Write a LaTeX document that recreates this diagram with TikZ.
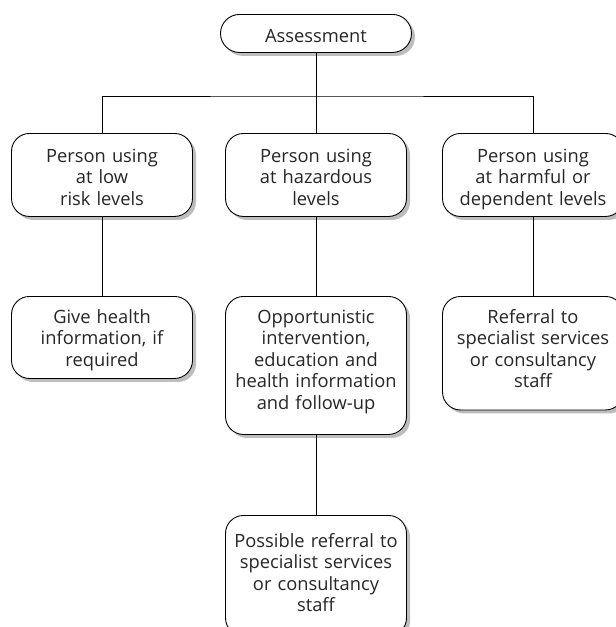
\documentclass[tikz,border=0pt]{standalone}
\usepackage{fontspec}
\setmainfont{Open Sans}
\usetikzlibrary{positioning,shadows}
\newcommand{\tpad}[1]{\rule{0pt}{#1}}
\newcommand{\bpad}[1]{\rule[-#1]{0pt}{#1}}
\begin{document}
\begin{tikzpicture}[x=1pt,y=-1pt,
          every node/.style={font=\fontsize{18.3}{21.5}\selectfont, text=black!85},
          box/.style={draw, line width=0.9pt, fill=white, rounded corners=18pt,
            text width=175pt, inner xsep=3pt, inner ysep=0pt, align=center,
            anchor=north, drop shadow={shadow xshift=3.5pt, shadow yshift=-3.5pt,
            fill=black!26, opacity=1}},
          ln/.style={line width=0.9pt}]
        \useasboundingbox (0,0) rectangle (616,627);
        \node[box, text width=185pt, rounded corners=19pt] (asmt) at (316,14)
        {\tpad{28pt}Assessment\bpad{10pt}};
        % first row
        \node[box] (low) at (102,133)
        {\tpad{29pt}Person using\\at low\\risk levels\bpad{11pt}};
        \node[box] (haz) at (316,133)
        {\tpad{29pt}Person using\\at hazardous\\levels\bpad{11pt}};
        \node[box] (harm) at (533,133)
        {\tpad{29pt}Person using\\at harmful or\\dependent levels\bpad{11pt}};
        % second row
        \node[box] (info) at (102,296)
        {\tpad{27pt}Give health\\information, if\\required\bpad{12pt}};
        \node[box] (opp) at (316,296)
        {\tpad{27pt}Opportunistic\\intervention,\\education and\\health information\\and follow-up\bpad{25pt}};
        \node[box] (spec) at (533,296)
        {\tpad{27pt}Referral to\\specialist services\\or consultancy\\staff\bpad{22pt}};
        % third row
        \node[box] (poss) at (316,515)
        {\tpad{32pt}Possible referral to\\specialist services\\or consultancy\\staff\bpad{24pt}};
        \coordinate (bus) at (316,96);
        \draw[ln] (asmt.south) -- (bus);
        \draw[ln] (low.north) |- (bus) -| (harm.north);
        \draw[ln] (bus) -- (haz.north);
        \draw[ln] (low) -- (info); \draw[ln] (haz) -- (opp);
        \draw[ln] (harm) -- (spec); \draw[ln] (opp) -- (poss);
      \end{tikzpicture}
\end{document}
